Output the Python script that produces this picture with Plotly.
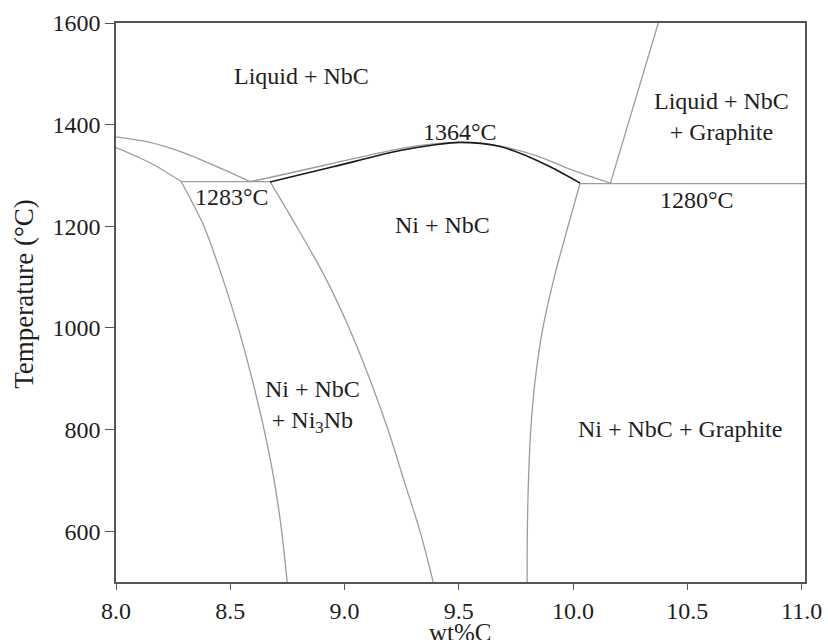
import plotly.graph_objects as go

# ---- data ----
liq_left_x = [8.0, 8.149, 8.294, 8.444, 8.587]
liq_left_T = [1376, 1365, 1345, 1317, 1288]

sol_left_x = [8.0, 8.149, 8.285]
sol_left_T = [1355, 1325, 1288]

eut_left_x = [8.285, 8.674]
eut_left_T = [1288, 1288]

ni3nb_left_x = [8.285, 8.33, 8.385, 8.465, 8.535, 8.595, 8.648, 8.692, 8.725, 8.749]
ni3nb_left_T = [1288, 1250, 1200, 1100, 1000, 900, 800, 700, 600, 500]

ni3nb_right_x = [8.674, 8.79, 8.915, 9.02, 9.11, 9.19, 9.26, 9.33, 9.388]
ni3nb_right_T = [1288, 1200, 1100, 1000, 900, 800, 700, 600, 500]

graph_left_x = [10.031, 9.978, 9.918, 9.868, 9.835, 9.815, 9.805, 9.800, 9.799]
graph_left_T = [1285, 1200, 1100, 1000, 900, 800, 700, 600, 500]

dome_gray_x = [8.587, 8.674, 8.95, 9.243, 9.39, 9.506, 9.68, 9.85, 10.0, 10.163]
dome_gray_T = [1288, 1296, 1324, 1353, 1362, 1365, 1358, 1337, 1310, 1285]

dome_black_x = [8.674, 8.95, 9.243, 9.39, 9.506, 9.68, 9.80, 9.90, 10.031]
dome_black_T = [1287, 1317, 1349, 1360, 1365, 1357, 1338, 1317, 1285]

eut_right_x = [10.031, 11.015]
eut_right_T = [1284, 1284]

liq_right_x = [10.163, 10.373]
liq_right_T = [1284, 1600]

label_text = ["Liquid + NbC", "Liquid + NbC<br>+ Graphite", "1364°C", "1283°C",
              "1280°C", "Ni + NbC", "Ni + NbC<br>+ Ni<sub>3</sub>Nb", "Ni + NbC + Graphite"]
label_x = [8.81, 10.649, 9.506, 8.508, 10.544, 9.43, 8.862, 10.469]
label_T = [1496, 1416, 1386, 1258, 1252, 1203, 845, 801]

x_ticks = [8.0, 8.5, 9.0, 9.5, 10.0, 10.5, 11.0]
y_ticks = [600, 800, 1000, 1200, 1400, 1600]
x_title = "wt%C"
y_title = "Temperature (°C)"

FONT = "Liberation Serif"
GRAY = "#9c9c9c"
TXT = "#1e1e1e"

fig = go.Figure()

def add_line(x, y, color=GRAY, width=1.3, spline=False):
    fig.add_trace(go.Scatter(
        x=x, y=y, mode="lines",
        line=dict(color=color, width=width, shape="spline" if spline else "linear",
                  smoothing=0.9),
        hoverinfo="skip", showlegend=False))

add_line(liq_left_x, liq_left_T, spline=True)
add_line(sol_left_x, sol_left_T, spline=True)
add_line(eut_left_x, eut_left_T)
add_line(ni3nb_left_x, ni3nb_left_T, spline=True)
add_line(ni3nb_right_x, ni3nb_right_T, spline=True)
add_line(graph_left_x, graph_left_T, spline=True)
add_line(dome_gray_x, dome_gray_T, spline=True)
add_line(dome_black_x, dome_black_T, color="#1a1a1a", width=1.6, spline=True)
add_line(eut_right_x, eut_right_T)
add_line(liq_right_x, liq_right_T)

for t, x, y in zip(label_text, label_x, label_T):
    fig.add_annotation(x=x, y=y, text=t, showarrow=False,
                       font=dict(family=FONT, size=24, color=TXT),
                       xanchor="center", yanchor="middle", align="center")

# axis titles placed as paper-referenced text
fig.add_annotation(xref="paper", yref="paper", x=0.5, y=-0.062, text=x_title,
                   showarrow=False, xanchor="center", yanchor="top",
                   font=dict(family=FONT, size=25, color=TXT))
fig.add_annotation(xref="paper", yref="paper", x=-0.134, y=0.515, text=y_title,
                   showarrow=False, xanchor="center", yanchor="middle", textangle=-90,
                   font=dict(family=FONT, size=27, color=TXT))

axis_common = dict(
    showline=True, linecolor="#555555", linewidth=1.5, mirror=True,
    ticks="outside", tickwidth=1.3, tickcolor="#555555",
    showgrid=False, zeroline=False, automargin=False,
    tickfont=dict(family=FONT, size=24, color=TXT),
)

fig.update_xaxes(range=[8.0, 11.015], tickvals=x_ticks, tickformat=".1f", ticklen=6,
                 **axis_common)
fig.update_yaxes(range=[500, 1600], tickvals=y_ticks, ticklen=9,
                 **axis_common)

fig.update_layout(
    width=828, height=640, autosize=False,
    margin=dict(l=116, r=23, t=23, b=58),
    paper_bgcolor="white", plot_bgcolor="white",
)

fig.write_html("out.html", config={"displayModeBar": False},
               post_script="document.body.style.margin='0px';")
